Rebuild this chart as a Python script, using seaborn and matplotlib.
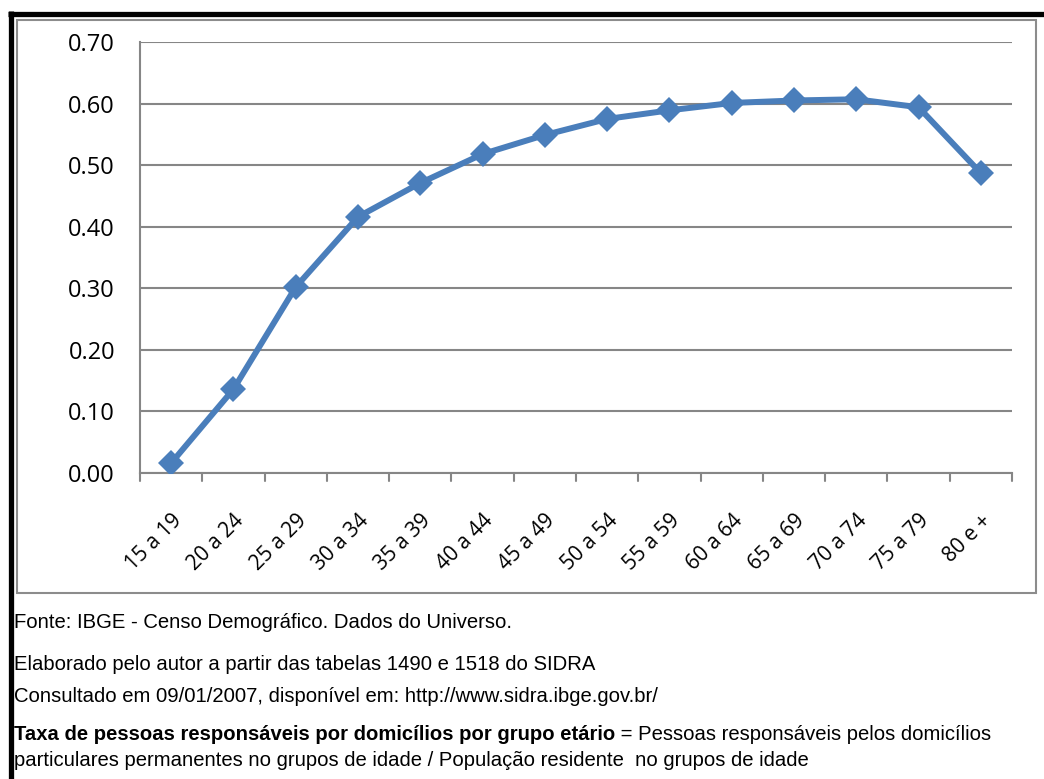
import matplotlib
matplotlib.use("Agg")
import matplotlib.pyplot as plt
import seaborn as sns
import pandas as pd
from matplotlib.lines import Line2D
from matplotlib.patches import Rectangle

# Data
age_groups = ["15 a 19", "20 a 24", "25 a 29", "30 a 34", "35 a 39", "40 a 44", "45 a 49",
              "50 a 54", "55 a 59", "60 a 64", "65 a 69", "70 a 74", "75 a 79", "80 e +"]
rate = [0.016, 0.136, 0.302, 0.416, 0.471, 0.518, 0.549,
        0.575, 0.589, 0.601, 0.605, 0.607, 0.594, 0.487]
y_ticks = [0.0, 0.1, 0.2, 0.3, 0.4, 0.5, 0.6, 0.7]

footer_lines = [
    "Fonte: IBGE - Censo Demográfico. Dados do Universo.",
    "Elaborado pelo autor a partir das tabelas 1490 e 1518 do SIDRA",
    "Consultado em 09/01/2007, disponível em: http://www.sidra.ibge.gov.br/",
]
def_bold = "Taxa de pessoas responsáveis por domicílios por grupo etário"
def_rest = " = Pessoas responsáveis pelos domicílios"
def_line2 = "particulares permanentes no grupos de idade / População residente  no grupos de idade"

df = pd.DataFrame({"grupo": age_groups, "taxa": rate})

sns.set_style("white")
plt.rcParams["text.color"] = "black"
W, H = 1044, 779
fig = plt.figure(figsize=(W / 100, H / 100), dpi=100)
ax = fig.add_axes([140 / W, 1 - 473 / H, (1012 - 140) / W, (473 - 42) / H])

grid_col = "#868686"
sns.lineplot(data=df, x="grupo", y="taxa", sort=False, ax=ax, color="#4a7ebb",
             linewidth=4.3, marker="D", markersize=13.5, markeredgewidth=0,
             zorder=3)

ax.set_xlim(-0.5, len(age_groups) - 0.5)
ax.set_ylim(0, 0.7)
ax.set_yticks(y_ticks)
ax.set_yticklabels([f"{v:.2f}" for v in y_ticks], fontsize=17, family="Open Sans")
ax.set_xticks(range(len(age_groups)))
ax.set_xticklabels(age_groups, rotation=45, ha="right", rotation_mode="anchor",
                   fontsize=15, family="Open Sans")
ax.tick_params(axis="x", length=0, pad=27, labelcolor="black")
ax.tick_params(axis="y", length=8, width=1.5, color=grid_col, pad=10, labelcolor="black")
# boundary tick marks between categories
for i in range(len(age_groups) + 1):
    ax.plot([i - 0.5, i - 0.5], [0, -0.013], color=grid_col, lw=1.5,
            clip_on=False, zorder=2)
ax.set_xlabel("")
ax.set_ylabel("")
ax.yaxis.grid(True, color=grid_col, lw=1.5)
ax.set_axisbelow(True)
for s in ["top", "right"]:
    ax.spines[s].set_visible(False)
for s in ["left", "bottom"]:
    ax.spines[s].set_color(grid_col)
    ax.spines[s].set_linewidth(1.5)

# outer frames
fig.add_artist(Rectangle((17 / W, 1 - 593 / H), (1036 - 17) / W, (593 - 20) / H,
                         transform=fig.transFigure, fill=False, ec="#8c8c8c", lw=1.5))
fig.add_artist(Line2D([8 / W, 1], [1 - 13.5 / H, 1 - 13.5 / H], color="black", lw=3.8,
                      solid_capstyle="butt"))
fig.add_artist(Line2D([10.5 / W, 10.5 / W], [0, 1 - 11 / H], color="black", lw=3.8,
                      solid_capstyle="butt"))

# footer notes
fnt = dict(family=["Liberation Sans Narrow", "Liberation Sans", "DejaVu Sans"], fontsize=14.6)
for txt, y in zip(footer_lines, [622, 665, 697]):
    fig.text(14 / W, 1 - y / H, txt, va="center", ha="left", **fnt)
t = fig.text(14 / W, 1 - 735 / H, def_bold, va="center", ha="left", weight="bold", **fnt)
fig.canvas.draw()
bb = t.get_window_extent(renderer=fig.canvas.get_renderer())
fig.text(bb.x1 / W, 1 - 735 / H, def_rest, va="center", ha="left", **fnt)
fig.text(14 / W, 1 - 760 / H, def_line2, va="center", ha="left", **fnt)

fig.savefig("out.png", dpi=100)
